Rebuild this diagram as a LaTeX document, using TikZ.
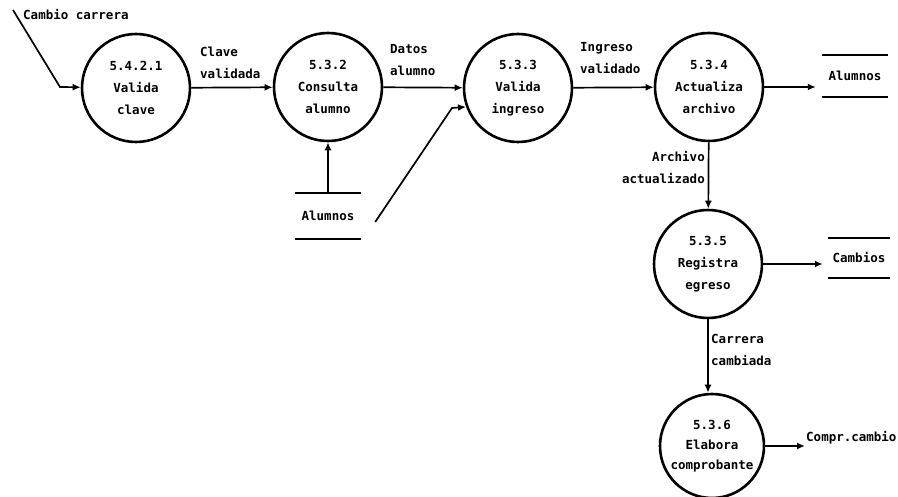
\documentclass[tikz,border=0pt]{standalone}
\usepackage{fontspec}
\setmonofont{DejaVu Sans Mono}
\usetikzlibrary{arrows.meta}
\begin{document}
\begin{tikzpicture}[x=1pt,y=-1pt,
  every node/.style={font=\ttfamily\bfseries\fontsize{12.5}{22}\selectfont, inner sep=0pt},
  proc/.style={circle, draw, line width=2.6pt, minimum size=108pt, align=center},
  store/.style={minimum width=66pt, minimum height=44pt},
  flow/.style={line width=1.7pt, -{Latex[length=8pt,width=7pt]}},
  plain/.style={line width=1.8pt},
  lbl/.style={align=left, anchor=west}]
\useasboundingbox (0,0) rectangle (898,497);

% processes
\node[proc] (c1) at (136,88) {5.4.2.1\\Valida\\clave};
\node[proc] (c2) at (328,87) {5.3.2\\Consulta\\alumno};
\node[proc] (c3) at (518,88) {5.3.3\\Valida\\ingreso};
\node[proc] (c4) at (709,87) {5.3.4\\Actualiza\\archivo};
\node[proc] (c5) at (708,264) {5.3.5\\Registra\\egreso};
\node[proc, minimum size=104pt, font=\ttfamily\bfseries\fontsize{12.5}{20}\selectfont]
  (c6) at (712,446) {5.3.6\\Elabora\\comprobante};

% data stores
\node[store, minimum height=46pt] (s1) at (328,216) {Alumnos};
\node[store, minimum height=42pt] (s2) at (855,76) {Alumnos};
\node[store, minimum width=62pt, minimum height=40pt] (s3) at (859,258) {Cambios};
\foreach \s in {s1,s2,s3}
  \draw[plain] (\s.north west) -- (\s.north east) (\s.south west) -- (\s.south east);

% external input
\node[anchor=west] (tin) at (23,15) {Cambio carrera};
\coordinate (a0) at (13,10);
\coordinate (k1) at (60,87);
\draw[flow] (a0) -- (k1) -- (c1);

% flows between processes
\draw[flow] (c1) -- (c2);
\node[lbl] (l1) at (200,63) {Clave\\validada};
\draw[flow] (c2) -- (c3);
\node[lbl] (l2) at (390,60) {Datos\\alumno};
\draw[flow] (c3) -- (c4);
\node[lbl] (l3) at (580,58) {Ingreso\\validado};
\draw[flow, shorten >=6pt] (c4) -- (c4 -| s2.west);
\draw[flow] (c4) -- (c5);
\node[align=right, anchor=east] (l4) at (705,168) {Archivo\\actualizado};
\draw[flow, shorten >=5pt] (c5) -- (c5 -| s3.west);
\draw[flow] (c5) -- (c5 |- c6.north);
\node[lbl] (l5) at (711,350) {Carrera\\cambiada};

% store reads
\draw[flow] (s1.north) -- (c2);
\coordinate (k2) at (452,108);
\draw[flow] ([xshift=14pt,yshift=-6pt]s1.east) -- (k2) -- (c3.200);

% output
\coordinate (o6) at (805,446);
\draw[flow] (c6) -- (o6);
\node[anchor=west] (out) at (806,438) {Compr.cambio};
\end{tikzpicture}
\end{document}
